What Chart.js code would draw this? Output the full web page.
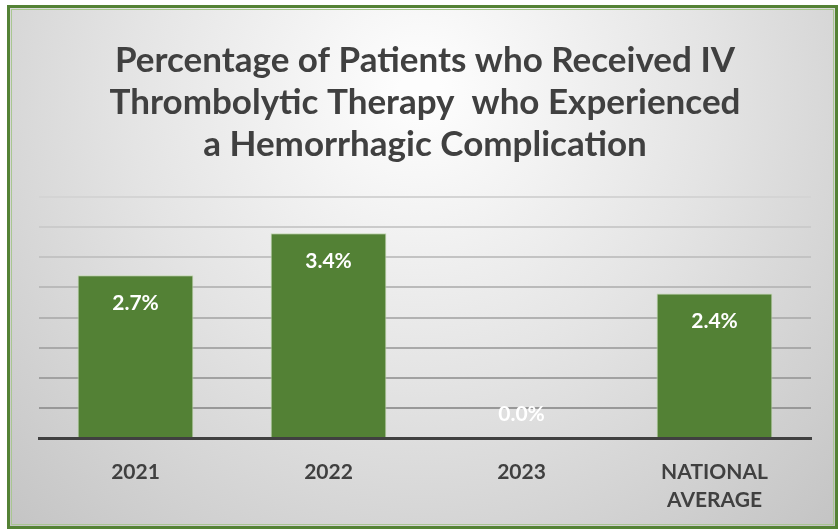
<!DOCTYPE html>
<html>
<head>
<meta charset="utf-8">
<script src="https://cdn.jsdelivr.net/npm/chart.js@4/dist/chart.umd.min.js"></script>
<style>
	html, body { margin: 0; padding: 0; background: #fff; }
	#box { width: 838px; height: 529px; }
</style>
</head>
<body>
<div id="box"><canvas id="grafico"></canvas></div>
<script>
	const categorias = ["2021", "2022", "2023", ["NATIONAL", "AVERAGE"]];
	const valores = [2.7, 3.4, 0.0, 2.4];
	const titulo = [
		"Percentage of Patients who Received IV",
		"Thrombolytic Therapy  who Experienced",
		"a Hemorrhagic Complication"
	];

	const fonte = "Lato, 'Open Sans', sans-serif";

	// fundo com borda verde e degradê cinza
	const fundo = {
		id: "fundo",
		beforeDraw(chart) {
			const ctx = chart.ctx;
			ctx.save();
			ctx.fillStyle = "#ffffff";
			ctx.fillRect(0, 0, chart.width, chart.height);
			const g = ctx.createRadialGradient(420, 90, 20, 420, 90, 620);
			g.addColorStop(0, "#fdfdfd");
			g.addColorStop(0.45, "#e4e4e4");
			g.addColorStop(1, "#c2c2c2");
			ctx.fillStyle = g;
			ctx.fillRect(8, 6, 829, 522);
			ctx.strokeStyle = "#548235";
			ctx.lineWidth = 3;
			ctx.strokeRect(8.5, 6.5, 828, 521);
			ctx.strokeStyle = "#a9c691";
			ctx.lineWidth = 1;
			ctx.strokeRect(11.5, 9.5, 822, 515);
			ctx.restore();
		}
	};

	// rótulos brancos dentro das barras
	const rotulos = {
		id: "rotulos",
		afterDatasetsDraw(chart) {
			const ctx = chart.ctx;
			const meta = chart.getDatasetMeta(0);
			ctx.save();
			ctx.font = "bold 21px " + fonte;
			ctx.fillStyle = "#ffffff";
			ctx.textAlign = "center";
			ctx.textBaseline = "middle";
			meta.data.forEach((bar, i) => {
				const y = Math.min(bar.y + 28, bar.base - 24);
				ctx.fillText(valores[i].toFixed(1) + "%", bar.x, y);
			});
			ctx.restore();
		}
	};

	const corGrade = (v) => {
		if (v === 0) return "rgba(0,0,0,0)";
		const t = (4 - v) / 3.5;
		const c = Math.round(212 - t * 60);
		return `rgb(${c},${c},${c})`;
	};

	new Chart("grafico", {
		type: "bar",
		data: {
			labels: categorias,
			datasets: [{
				data: valores,
				backgroundColor: "#538135",
				borderColor: "#c3d8b2",
				borderWidth: 1,
				barPercentage: 0.6,
				categoryPercentage: 1
			}]
		},
		options: {
			responsive: true,
			maintainAspectRatio: false,
			animation: false,
			layout: {
				padding: { left: 39, right: 27, top: 14, bottom: 0 }
			},
			plugins: {
				legend: { display: false },
				tooltip: { enabled: false },
				title: {
					display: true,
					text: titulo,
					color: "#404040",
					font: { family: fonte, size: 35, weight: "bold", lineHeight: 42 / 35 },
					padding: { top: 26, bottom: 31 }
				}
			},
			scales: {
				x: {
					grid: { display: false, drawTicks: false },
					border: { display: true, color: "#404040", width: 3 },
					ticks: {
						color: "#404040",
						padding: 20,
						font: { family: fonte, size: 21, weight: "bold", lineHeight: 28 / 21 }
					},
					afterFit: (scale) => { scale.height = 91; }
				},
				y: {
					min: 0,
					max: 4,
					ticks: { display: false, stepSize: 0.5 },
					border: { display: false },
					grid: {
						drawTicks: false,
						lineWidth: 2,
						color: (c) => corGrade(c.tick.value)
					}
				}
			}
		},
		plugins: [fundo, rotulos]
	});
</script>
</body>
</html>
